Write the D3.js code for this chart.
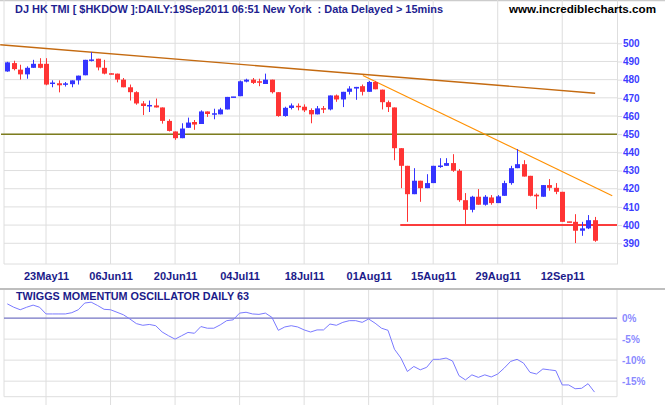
<!DOCTYPE html>
<html><head><meta charset="utf-8">
<script src="https://cdn.jsdelivr.net/npm/d3@7"></script>
<style>body{margin:0;background:#fff}svg{display:block}text{font-family:"Liberation Sans",Arial,sans-serif}</style>
</head><body><svg id="c" width="665" height="405"></svg>
<script>
// ---- data ----
const opens  = [484.5,489.1,485.5,482.9,486.5,488.7,488.7,477.8,478.0,477.3,477.5,479.6,482.4,490.5,491.5,486.5,483.3,483.3,480.0,475.8,473.1,466.9,465.5,465.8,464.7,457.3,451.5,447.8,453.5,456.7,455.6,462.5,460.9,460.9,463.6,470.2,470.9,478.9,480.0,478.9,477.6,480.0,473.1,460.0,464.4,465.5,465.1,463.3,460.9,464.2,463.6,471.3,469.1,473.3,475.1,476.4,473.3,478.7,474.5,467.6,464.7,442.3,432.6,417.0,424.4,420.3,423.1,432.1,432.6,434.1,429.9,413.7,408.4,415.6,411.2,415.2,412.1,416.1,423.1,431.3,433.5,427.1,416.7,415.6,422.0,420.5,418.3,401.8,401.8,396.9,398.2,402.7];
const highs  = [489.8,490.4,488.2,487.3,490.9,491.8,491.8,479.6,479.6,478.7,479.6,482.2,490.9,495.1,491.5,490.9,483.5,483.3,480.9,477.3,473.6,468.2,468.5,469.6,464.7,458.2,451.5,456.0,459.1,457.8,463.1,462.5,464.0,464.5,470.5,470.5,479.5,480.5,480.9,480.5,483.3,480.0,473.1,465.1,466.9,466.9,466.4,464.2,465.5,465.5,471.3,471.8,473.3,476.4,476.0,477.3,479.3,479.3,474.5,468.5,464.7,442.3,432.6,431.3,424.4,428.0,432.6,436.8,436.8,439.0,430.8,417.6,416.1,419.8,416.5,416.5,416.5,424.4,432.6,441.8,435.7,427.1,417.4,422.0,425.3,423.1,418.3,401.8,406.0,401.8,405.5,404.5];
const lows   = [484.3,485.1,480.0,480.5,486.5,486.2,476.9,475.8,473.0,476.2,475.8,477.3,482.4,490.0,485.1,482.9,482.9,478.5,475.8,468.5,466.2,460.5,462.2,464.7,455.8,451.5,446.9,447.8,453.5,452.4,455.6,459.5,458.2,460.9,463.6,470.2,470.9,478.5,477.6,476.4,477.6,472.4,459.6,459.6,463.6,463.1,462.2,456.0,460.9,461.6,463.1,467.8,464.9,471.8,468.9,471.3,473.3,474.7,463.6,462.2,435.7,420.3,401.8,417.0,412.8,420.3,423.1,431.5,432.6,429.3,412.8,400.0,407.0,411.2,410.7,411.2,412.1,416.1,422.2,431.3,426.7,415.8,408.8,415.6,418.9,417.0,401.8,401.5,390.1,394.1,397.8,390.8];
const closes = [489.5,485.8,482.9,486.5,488.7,486.5,477.3,478.2,476.9,477.8,479.6,482.2,490.9,490.9,486.7,483.3,482.9,480.0,475.8,473.1,466.9,465.5,465.8,464.7,457.3,451.8,447.8,453.1,456.4,455.3,462.5,461.1,461.3,463.6,470.5,470.5,479.1,480.0,478.2,478.5,480.0,473.1,460.0,464.5,465.8,464.9,463.1,460.9,464.2,463.6,471.3,469.1,473.3,475.1,476.0,473.3,478.7,474.7,467.6,464.9,442.3,432.6,417.0,424.4,420.3,423.1,432.6,432.6,434.1,429.9,413.7,408.4,415.6,411.2,415.6,412.1,415.8,423.1,431.3,433.5,426.7,416.1,415.8,422.0,420.5,418.3,401.8,401.5,396.9,398.2,402.7,391.4];
const oscillator = [3.4,2.6,2.0,2.6,3.1,2.6,1.0,1.0,1.0,1.0,1.3,2.0,3.6,3.8,3.0,2.1,2.0,1.4,0.8,-0.2,-1.3,-1.7,-1.5,-1.8,-3.3,-4.2,-5.0,-4.2,-3.4,-3.6,-2.0,-2.4,-2.4,-1.6,-0.6,-0.4,1.2,1.4,1.0,0.9,1.2,0.2,-2.9,-2.1,-1.8,-2.1,-2.8,-3.3,-2.8,-2.8,-1.4,-1.7,-1.0,-0.6,-0.6,-1.0,-0.2,-1.2,-2.4,-2.9,-7.4,-9.5,-12.7,-11.5,-12.3,-11.7,-9.8,-9.8,-9.5,-10.2,-13.7,-14.7,-13.5,-14.1,-13.5,-14.0,-13.3,-11.9,-10.3,-9.8,-10.7,-12.9,-13.3,-12.1,-12.3,-12.5,-15.9,-15.9,-16.8,-16.7,-15.6,-17.6];
const priceTicks = [390,400,410,420,430,440,450,460,470,480,490,500];
const oscTicks = [0,-5,-10,-15];
const oscTickLabels = ["0%","-5%","-10%","-15%"];
const dateTickIndex = [6,16,26,36,46,56,66,76,86];
const dateTickLabels = ["23May11","06Jun11","20Jun11","04Jul11","18Jul11","01Aug11","15Aug11","29Aug11","12Sep11"];
const longTrendIdx = [-1.1, 91.1];
const longTrendVal = [499.2, 472.5];
const shortTrendIdx = [55.1, 93.75];
const shortTrendVal = [482.3, 416.2];
const resistanceLevel = 450;
const supportLevel = 400;
const supportStartIdx = 60.9;

// ---- drawing ----
const svg = d3.select("#c");
const L = 4, R = 617;
const x = d3.scaleLinear().domain([0, 91]).range([7.3, 594.5]);
const y = d3.scaleLinear().domain([378.6, 523.8]).range([264, 0]);
const yo = d3.scaleLinear().domain([-18.7, 6.7]).range([396.7, 290]);
const grid = "#dedede";

// top border & separator
svg.append("line").attr("x1",0).attr("x2",665).attr("y1",0.5).attr("y2",0.5).attr("stroke","#cccccc").attr("stroke-width",1.5);
svg.append("line").attr("x1",0).attr("x2",665).attr("y1",289).attr("y2",289).attr("stroke","#a8a8a8").attr("stroke-width",1.5);

// vertical gridlines
svg.append("g").selectAll("line").data(dateTickIndex).join("line")
  .attr("x1",d=>x(d)).attr("x2",d=>x(d)).attr("y1",0).attr("y2",264).attr("stroke",grid);
svg.append("g").selectAll("line").data(dateTickIndex).join("line")
  .attr("x1",d=>x(d)).attr("x2",d=>x(d)).attr("y1",290).attr("y2",405).attr("stroke",grid);

// horizontal gridlines main
svg.append("g").selectAll("line").data(priceTicks).join("line")
  .attr("x1",L).attr("x2",R).attr("y1",d=>y(d)).attr("y2",d=>y(d)).attr("stroke",grid);
// oscillator gridlines
svg.append("g").selectAll("line").data(oscTicks.filter(d=>d!==0)).join("line")
  .attr("x1",L).attr("x2",R).attr("y1",d=>yo(d)).attr("y2",d=>yo(d)).attr("stroke",grid);

// frames
const frame = [[L,0,L,264],[L,264,R,264],[L,290,L,396.7],[L,396.7,R,396.7],[R,290,R,396.7]];
svg.append("g").selectAll("line").data(frame).join("line")
  .attr("x1",d=>d[0]).attr("y1",d=>d[1]).attr("x2",d=>d[2]).attr("y2",d=>d[3]).attr("stroke",grid);

// right price axis
const ax = svg.append("g").attr("transform",`translate(${R},0)`)
  .call(d3.axisRight(y).tickValues(priceTicks).tickSize(5).tickSizeOuter(0).tickPadding(1).tickFormat(d3.format("d")));
ax.select(".domain").attr("stroke",grid);
ax.selectAll(".tick line").attr("stroke",grid);
ax.selectAll("text").attr("fill","#3c3cff").attr("font-size",10).attr("font-weight","bold").style("font-family","'Liberation Sans',Arial,sans-serif");

// date axis
const bx = svg.append("g").attr("transform","translate(0,264)")
  .call(d3.axisBottom(x).tickValues(dateTickIndex).tickSize(0).tickPadding(8).tickFormat((d,i)=>dateTickLabels[i]));
bx.select(".domain").remove();
bx.selectAll("text").attr("fill","#1b1b8a").attr("font-size",11).attr("font-weight","bold").style("font-family","'Liberation Sans',Arial,sans-serif");

// horizontal level lines
svg.append("line").attr("x1",1).attr("x2",R).attr("y1",y(resistanceLevel)).attr("y2",y(resistanceLevel))
  .attr("stroke","#7d7d1e").attr("stroke-width",1.5);
svg.append("line").attr("x1",x(supportStartIdx)).attr("x2",R).attr("y1",y(supportLevel)).attr("y2",y(supportLevel))
  .attr("stroke","#ff0000").attr("stroke-width",1.5);

// trend lines
const tl = d3.line().x(d=>x(d[0])).y(d=>y(d[1]));
svg.append("path").attr("d",tl(d3.zip(longTrendIdx,longTrendVal))).attr("fill","none").attr("stroke","#c46a10").attr("stroke-width",1.4);
svg.append("path").attr("d",tl(d3.zip(shortTrendIdx,shortTrendVal))).attr("fill","none").attr("stroke","#ff9000").attr("stroke-width",1.1);

// candles
const idx = d3.range(opens.length);
const col = i => closes[i] >= opens[i] ? "#3434ff" : "#ff3434";
const cg = svg.append("g");
cg.selectAll("line").data(idx).join("line")
  .attr("x1",i=>Math.round(x(i))+0.5).attr("x2",i=>Math.round(x(i))+0.5)
  .attr("y1",i=>y(highs[i])).attr("y2",i=>y(lows[i])).attr("stroke",col);
cg.selectAll("rect").data(idx).join("rect")
  .attr("x",i=>Math.round(x(i))-2).attr("width",5)
  .attr("y",i=>{const t=y(Math.max(opens[i],closes[i])), b=y(Math.min(opens[i],closes[i])); return b-t<1.5 ? (t+b)/2-0.75 : t;})
  .attr("height",i=>Math.max(1.5, y(Math.min(opens[i],closes[i]))-y(Math.max(opens[i],closes[i]))))
  .attr("fill",col);

// oscillator
svg.append("line").attr("x1",L).attr("x2",R).attr("y1",yo(0)).attr("y2",yo(0)).attr("stroke","#7474c4").attr("stroke-width",1.3);
svg.append("path").attr("d",d3.line().x((d,i)=>x(i)).y(d=>yo(d))(oscillator))
  .attr("fill","none").attr("stroke","#7a7aff").attr("stroke-width",1);
const ox = svg.append("g").attr("transform",`translate(${R},0)`)
  .call(d3.axisRight(yo).tickValues(oscTicks).tickSize(0).tickPadding(5).tickFormat((d,i)=>oscTickLabels[i]));
ox.select(".domain").remove();
ox.selectAll("text").attr("fill","#8a8aff").attr("font-size",10).attr("font-weight","bold").style("font-family","'Liberation Sans',Arial,sans-serif");

// texts
svg.append("text").attr("x",15).attr("y",12.5).attr("fill","#1e1e90").attr("font-size",10).attr("font-weight","bold")
  .style("white-space","pre")
  .attr("textLength",428).attr("lengthAdjust","spacingAndGlyphs")
  .text("DJ HK TMI [ $HKDOW ]:DAILY:19Sep2011 06:51 New York  : Data Delayed > 15mins");
svg.append("text").attr("x",509).attr("y",13).attr("fill","#000").attr("font-size",11).attr("font-weight","bold")
  .attr("textLength",147).attr("lengthAdjust","spacingAndGlyphs").text("www.incrediblecharts.com");
svg.append("text").attr("x",16).attr("y",299.5).attr("fill","#1b1b8a").attr("font-size",10).attr("font-weight","bold")
  .attr("textLength",233).attr("lengthAdjust","spacingAndGlyphs").text("TWIGGS MOMENTUM OSCILLATOR DAILY 63");
</script></body></html>
